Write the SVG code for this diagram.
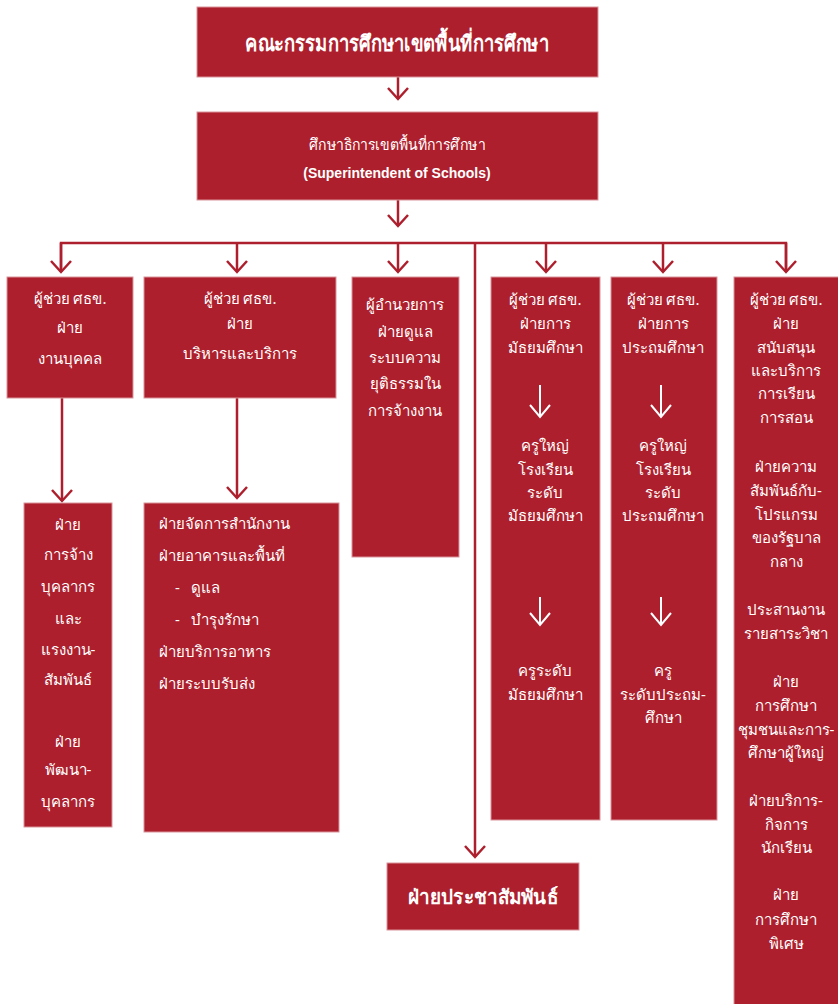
<svg xmlns="http://www.w3.org/2000/svg" width="838" height="1004" viewBox="0 0 838 1004">
<defs>
<style>
.box{fill:#ad1f2d;stroke:#d9949a;stroke-width:1}
.t{fill:#fff;font-family:'Noto Sans','DejaVu Sans',sans-serif;font-size:15px;text-anchor:middle}
.tl{fill:#fff;font-family:'Noto Sans','DejaVu Sans',sans-serif;font-size:15px}
.title{fill:#fff;font-family:'Noto Sans','DejaVu Sans',sans-serif;font-size:22px;font-weight:bold;text-anchor:middle}
.en{fill:#fff;font-family:'Liberation Sans',sans-serif;font-size:14px;font-weight:bold;text-anchor:middle}
.ln{stroke:#ad1f2d;stroke-width:2.5;fill:none}
.wl{stroke:#fff;stroke-width:2;fill:none}
</style>
<marker id="ah" viewBox="-12 -12 24 24" refX="0" refY="0" markerWidth="24" markerHeight="24" markerUnits="userSpaceOnUse" orient="auto" overflow="visible">
<path d="M-11,-10 L0,0 L-11,10" fill="none" stroke="#ad1f2d" stroke-width="2.5"/>
</marker>
<marker id="wh" viewBox="-12 -12 24 24" refX="0" refY="0" markerWidth="24" markerHeight="24" markerUnits="userSpaceOnUse" orient="auto" overflow="visible">
<path d="M-12,-10 L0,0 L-12,10" fill="none" stroke="#fff" stroke-width="2"/>
</marker>
</defs>
<rect width="838" height="1004" fill="#fff"/>

<g id="connectors">
<path class="ln" d="M398,77 V99" marker-end="url(#ah)"/>
<path class="ln" d="M398,200 V226" marker-end="url(#ah)"/>
<path class="ln" d="M61,272 V243 H786 V272"/>
<path class="ln" d="M61,243 V272" marker-end="url(#ah)"/>
<path class="ln" d="M237,243 V272" marker-end="url(#ah)"/>
<path class="ln" d="M398,243 V272" marker-end="url(#ah)"/>
<path class="ln" d="M546,243 V272" marker-end="url(#ah)"/>
<path class="ln" d="M663,243 V272" marker-end="url(#ah)"/>
<path class="ln" d="M786,243 V272" marker-end="url(#ah)"/>
<path class="ln" d="M475,243 V857" marker-end="url(#ah)"/>
<path class="ln" d="M62,398 V501" marker-end="url(#ah)"/>
<path class="ln" d="M237,398 V498" marker-end="url(#ah)"/>
</g>

<g id="board">
<rect class="box" x="197" y="7" width="401" height="70"/>
<text class="title" x="397" y="51" textLength="304" lengthAdjust="spacingAndGlyphs">คณะกรรมการศึกษาเขตพื้นที่การศึกษา</text>
</g>

<g id="superintendent">
<rect class="box" x="197" y="112" width="401" height="88"/>
<text class="t" x="397" y="150" textLength="176" lengthAdjust="spacingAndGlyphs">ศึกษาธิการเขตพื้นที่การศึกษา</text>
<text class="en" x="397" y="178">(Superintendent of Schools)</text>
</g>

<g id="personnel">
<rect class="box" x="7" y="277" width="126" height="121"/>
<text class="t" x="70" y="304">ผู้ช่วย ศธข.</text>
<text class="t" x="70" y="333">ฝ่าย</text>
<text class="t" x="70" y="364">งานบุคคล</text>
</g>

<g id="admin">
<rect class="box" x="144" y="277" width="192" height="121"/>
<text class="t" x="240" y="304">ผู้ช่วย ศธข.</text>
<text class="t" x="240" y="329">ฝ่าย</text>
<text class="t" x="240" y="359">บริหารและบริการ</text>
</g>

<g id="justice">
<rect class="box" x="352" y="277" width="107" height="280"/>
<text class="t" x="405" y="310">ผู้อำนวยการ</text>
<text class="t" x="405" y="337">ฝ่ายดูแล</text>
<text class="t" x="405" y="363">ระบบความ</text>
<text class="t" x="405" y="389">ยุติธรรมใน</text>
<text class="t" x="405" y="416">การจ้างงาน</text>
</g>

<g id="secondary">
<rect class="box" x="491" y="277" width="109" height="543"/>
<text class="t" x="545" y="305">ผู้ช่วย ศธข.</text>
<text class="t" x="545" y="329">ฝ่ายการ</text>
<text class="t" x="545" y="353">มัธยมศึกษา</text>
<path class="wl" d="M540,385 V417" marker-end="url(#wh)"/>
<text class="t" x="545" y="451">ครูใหญ่</text>
<text class="t" x="545" y="475">โรงเรียน</text>
<text class="t" x="545" y="498">ระดับ</text>
<text class="t" x="545" y="521">มัธยมศึกษา</text>
<path class="wl" d="M540,597 V625" marker-end="url(#wh)"/>
<text class="t" x="545" y="676">ครูระดับ</text>
<text class="t" x="545" y="700">มัธยมศึกษา</text>
</g>

<g id="primary">
<rect class="box" x="611" y="277" width="106" height="543"/>
<text class="t" x="663" y="305">ผู้ช่วย ศธข.</text>
<text class="t" x="663" y="329">ฝ่ายการ</text>
<text class="t" x="663" y="353">ประถมศึกษา</text>
<path class="wl" d="M661,385 V417" marker-end="url(#wh)"/>
<text class="t" x="663" y="451">ครูใหญ่</text>
<text class="t" x="663" y="475">โรงเรียน</text>
<text class="t" x="663" y="498">ระดับ</text>
<text class="t" x="663" y="521">ประถมศึกษา</text>
<path class="wl" d="M661,597 V625" marker-end="url(#wh)"/>
<text class="t" x="663" y="676">ครู</text>
<text class="t" x="663" y="700">ระดับประถม-</text>
<text class="t" x="663" y="723">ศึกษา</text>
</g>

<g id="support">
<rect class="box" x="734" y="277" width="110" height="735"/>
<text class="t" x="786" y="305">ผู้ช่วย ศธข.</text>
<text class="t" x="786" y="329">ฝ่าย</text>
<text class="t" x="786" y="353">สนับสนุน</text>
<text class="t" x="786" y="376">และบริการ</text>
<text class="t" x="786" y="399">การเรียน</text>
<text class="t" x="786" y="423">การสอน</text>
<text class="t" x="786" y="472">ฝ่ายความ</text>
<text class="t" x="786" y="496">สัมพันธ์กับ-</text>
<text class="t" x="786" y="520">โปรแกรม</text>
<text class="t" x="786" y="543">ของรัฐบาล</text>
<text class="t" x="786" y="567">กลาง</text>
<text class="t" x="786" y="615">ประสานงาน</text>
<text class="t" x="786" y="639">รายสาระวิชา</text>
<text class="t" x="786" y="687">ฝ่าย</text>
<text class="t" x="786" y="711">การศึกษา</text>
<text class="t" x="786" y="735">ชุมชนและการ-</text>
<text class="t" x="786" y="758">ศึกษาผู้ใหญ่</text>
<text class="t" x="786" y="806">ฝ่ายบริการ-</text>
<text class="t" x="786" y="830">กิจการ</text>
<text class="t" x="786" y="853">นักเรียน</text>
<text class="t" x="786" y="900">ฝ่าย</text>
<text class="t" x="786" y="925">การศึกษา</text>
<text class="t" x="786" y="949">พิเศษ</text>
</g>

<g id="hiring">
<rect class="box" x="24" y="503" width="88" height="324"/>
<text class="t" x="68" y="530">ฝ่าย</text>
<text class="t" x="68" y="560">การจ้าง</text>
<text class="t" x="68" y="592">บุคลากร</text>
<text class="t" x="68" y="624">และ</text>
<text class="t" x="68" y="655">แรงงาน-</text>
<text class="t" x="68" y="685">สัมพันธ์</text>
<text class="t" x="68" y="747">ฝ่าย</text>
<text class="t" x="68" y="775">พัฒนา-</text>
<text class="t" x="68" y="807">บุคลากร</text>
</g>

<g id="office">
<rect class="box" x="144" y="503" width="195" height="329"/>
<text class="tl" x="159" y="529">ฝ่ายจัดการสำนักงาน</text>
<text class="tl" x="159" y="561">ฝ่ายอาคารและพื้นที่</text>
<text class="tl" x="175" y="593">-</text>
<text class="tl" x="191" y="593">ดูแล</text>
<text class="tl" x="175" y="625">-</text>
<text class="tl" x="191" y="625">บำรุงรักษา</text>
<text class="tl" x="159" y="657">ฝ่ายบริการอาหาร</text>
<text class="tl" x="159" y="689">ฝ่ายระบบรับส่ง</text>
</g>

<g id="pr">
<rect class="box" x="387" y="863" width="192" height="67"/>
<text class="title" x="483" y="904" style="font-size:20px" textLength="150" lengthAdjust="spacingAndGlyphs">ฝ่ายประชาสัมพันธ์</text>
</g>
</svg>
